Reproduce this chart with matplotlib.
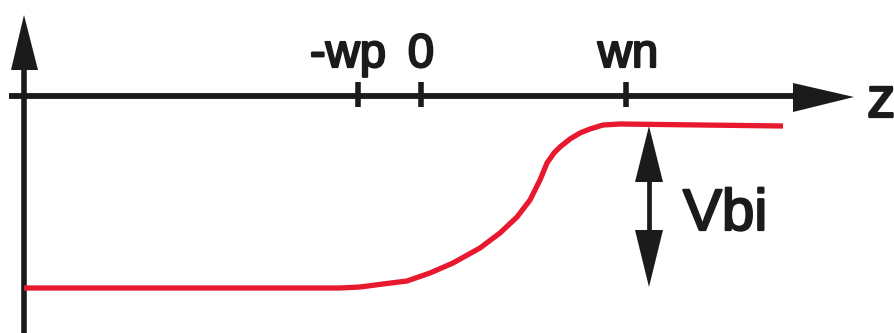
import matplotlib
matplotlib.use("Agg")
import matplotlib.pyplot as plt
import matplotlib.patheffects as pe

# ---- data (z position, potential), axis crossing at origin ----
curve_z = [0, 316, 336, 359, 383, 406, 429, 456, 476, 493, 506, 516, 523, 530, 536, 546, 556, 566, 579, 596, 759]
curve_v = [-192, -192, -191, -188, -185, -177, -167, -152, -137, -121, -104, -84, -67, -57, -51, -43, -37, -33, -29, -28, -30]

tick_pos = [334, 397, 602]
tick_labels = ["-wp", "0", "wn"]
tick_label_shift = [-10, 0, 2]

vbi_z = 625
vbi_top = -30
vbi_bottom = -191

BLACK = "#1b1b1b"
RED = "#e8182e"

fig = plt.figure(figsize=(8.95, 3.33), dpi=100)
ax = fig.add_axes([0, 0, 1, 1])
ax.set_xlim(-24, 871)
ax.set_ylim(-237, 96)
ax.axis("off")

FONT = "Liberation Sans"
thick = [pe.withStroke(linewidth=1.6, foreground=BLACK)]

# vertical axis with arrow
ax.plot([0, 0], [-240, 30], color=BLACK, lw=4.0, solid_capstyle="butt")
ax.fill([0, -13, 14], [81, 26, 26], color=BLACK, lw=0)

# horizontal axis with arrow
ax.plot([-15, 775], [0, 0], color=BLACK, lw=4.2, solid_capstyle="butt")
ax.fill([830, 769, 769], [-1, 13, -16], color=BLACK, lw=0)

# ticks and labels
for p, lab, s in zip(tick_pos, tick_labels, tick_label_shift):
    ax.plot([p, p], [14, -11], color=BLACK, lw=4.0, solid_capstyle="butt")
    ax.text(p + s, 29, lab, ha="center", va="baseline", fontsize=34,
            family=FONT, color=BLACK, path_effects=thick)

ax.text(843, -21, "z", ha="left", va="baseline", fontsize=41,
        family=FONT, color=BLACK, path_effects=thick)

# potential curve
ax.plot(curve_z, curve_v, color=RED, lw=3.8, solid_capstyle="butt",
        solid_joinstyle="round")

# Vbi double arrow
ax.plot([vbi_z, vbi_z], [vbi_top - 40, vbi_bottom + 40], color=BLACK, lw=3.4)
ax.fill([vbi_z, vbi_z - 14, vbi_z + 14], [vbi_top, vbi_top - 56, vbi_top - 56],
        color=BLACK, lw=0)
ax.fill([vbi_z, vbi_z - 14, vbi_z + 14], [vbi_bottom, vbi_bottom + 57, vbi_bottom + 57],
        color=BLACK, lw=0)
ax.text(659, -134, "Vbi", ha="left", va="baseline", fontsize=42,
        family=FONT, color=BLACK, path_effects=thick)

fig.savefig("out.png", dpi=100, facecolor="white")
